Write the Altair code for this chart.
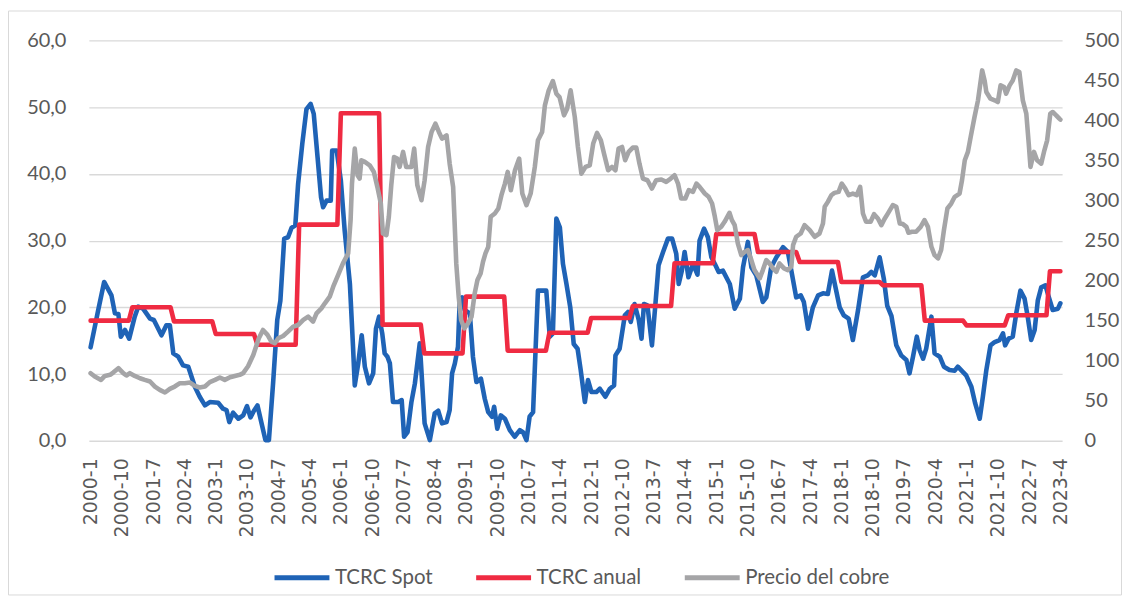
import altair as alt
import pandas as pd

# ---------------- data ----------------
# month index: 0 = 2000-1, 279 = 2023-4
series_names = ["TCRC Spot", "TCRC anual", "Precio del cobre"]
series_colors = ["#1F63B6", "#EF2B42", "#A5A5A7"]

x_tick_labels = ["2000-1", "2000-10", "2001-7", "2002-4", "2003-1", "2003-10", "2004-7", "2005-4",
                 "2006-1", "2006-10", "2007-7", "2008-4", "2009-1", "2009-10", "2010-7", "2011-4",
                 "2012-1", "2012-10", "2013-7", "2014-4", "2015-1", "2015-10", "2016-7", "2017-4",
                 "2018-1", "2018-10", "2019-7", "2020-4", "2021-1", "2021-10", "2022-7", "2023-4"]
x_tick_pos = [9 * k for k in range(len(x_tick_labels))]
left_ticks = [0, 10, 20, 30, 40, 50, 60]
right_ticks = [0, 50, 100, 150, 200, 250, 300, 350, 400, 450, 500]

spot_month = [
    0, 2.2, 3.9, 6, 7, 8, 8.7, 9.9, 11.1, 12.7,
    13.7, 15.1, 17.1, 18.2, 20.4, 21.8, 22.8, 23.8, 25.2, 26.6,
    28.1, 30, 31.4, 32.9, 34.3, 36.7, 38.1, 39.1, 39.9, 41,
    42.5, 43.9, 45, 46, 47, 48, 49.2, 50.3, 51.3, 52.5,
    53.7, 54.6, 55.7, 56.8, 57.8, 58.9, 59.7, 60.9, 62.1, 63.3,
    64.2, 65.3, 66.3, 66.9, 67.9, 69.1, 69.5, 70.8, 72, 73.1,
    74.6, 75.5, 76, 77, 78, 78.9, 80.1, 81.3, 82.1, 83,
    83.9, 84.6, 85.4, 86.1, 87, 88.5, 89.5, 90.2, 91.2, 92.3,
    93.3, 94.7, 96.1, 97.6, 99, 100, 101.1, 102.4, 103.3, 104,
    104.8, 105.7, 106.2, 106.9, 107.6, 109.1, 110, 111, 112.3, 113.4,
    114.4, 115.5, 116.1, 117, 118, 119.2, 120.6, 122, 123.5, 124.4,
    125.4, 126.3, 127.3, 128.7, 131.1, 132.1, 133, 134, 135, 135.9,
    136.9, 138, 139, 140.1, 141, 142.2, 143.1, 144.1, 145.5, 146.5,
    148.1, 149.4, 150.6, 151, 152.2, 153.7, 154.6, 155.4, 156.5, 157.7,
    158.5, 159.2, 160.2, 161.5, 162.5, 163.4, 164.7, 166.1, 167.3, 168.5,
    169.2, 170.1, 170.9, 172, 173.3, 174.6, 175.2, 176.5, 177.6, 178.6,
    179.6, 180.7, 181.9, 183.9, 185.3, 186.8, 187.7, 189.1, 190.1, 191.5,
    193.4, 194.4, 195.8, 197.3, 199.2, 200.6, 201.6, 203, 204.3, 205.2,
    206.4, 207.8, 209.3, 210.7, 212.1, 213.3, 214.3, 215.5, 216.7, 218.1,
    219.3, 220.8, 222.2, 223.6, 224.6, 225.6, 227, 228.2, 229.2, 230.4,
    231.8, 233.2, 234.7, 235.6, 236.6, 237.7, 238.5, 239.5, 240.4, 241.9,
    242.8, 244.3, 245.5, 247.1, 248.6, 249.5, 251, 251.9, 253.4, 254.5,
    255.8, 256.7, 257.7, 258.9, 260.1, 261.5, 262.5, 263.1, 264.1, 265.3,
    266.3, 267.5, 268.7, 269.6, 270.6, 271.6, 272.5, 273.5, 274.7, 275.7,
    276.8, 278.3, 279,
]
spot_value = [
    14.0, 19.6, 23.8, 21.8, 19.1, 19.0, 15.6, 16.6, 15.3, 18.6,
    20.1, 19.8, 18.3, 18.1, 15.8, 17.3, 17.3, 13.1, 12.6, 11.3,
    11.1, 8.1, 6.6, 5.3, 5.8, 5.7, 4.8, 4.6, 2.8, 4.2,
    3.3, 3.8, 5.2, 3.5, 4.5, 5.3, 2.6, 0.1, 0.1, 8.6,
    18.1, 21.0, 30.3, 30.5, 31.9, 32.3, 38.5, 44.5, 49.7, 50.5,
    49.0, 42.5, 36.5, 35.0, 36.0, 36.0, 43.5, 43.5, 39.0, 31.5,
    23.5, 14.1, 8.3, 11.6, 15.8, 11.1, 8.6, 10.1, 16.8, 18.6,
    16.1, 13.1, 12.6, 11.6, 5.8, 5.8, 6.1, 0.6, 1.3, 5.8,
    8.6, 14.6, 2.6, 0.1, 4.1, 4.5, 2.6, 2.8, 4.6, 10.1,
    11.6, 14.1, 21.0, 21.5, 19.6, 19.1, 12.6, 8.8, 9.3, 6.3,
    4.3, 3.6, 5.1, 1.8, 3.8, 3.3, 1.6, 0.6, 1.6, 1.3,
    0.1, 3.6, 4.3, 22.5, 22.5, 15.6, 16.1, 33.3, 32.0, 26.5,
    23.5, 20.0, 14.5, 13.8, 10.6, 5.8, 9.1, 7.3, 7.3, 7.8,
    6.6, 7.8, 8.3, 12.8, 13.8, 18.8, 19.3, 17.8, 20.5, 18.1,
    15.3, 20.5, 20.3, 14.3, 20.5, 26.3, 28.3, 30.3, 30.3, 28.0,
    23.5, 25.5, 28.3, 24.5, 26.5, 24.9, 30.0, 31.8, 30.5, 27.5,
    26.5, 25.3, 25.5, 23.5, 19.8, 21.3, 26.0, 29.8, 26.0, 24.8,
    20.8, 21.5, 26.0, 27.5, 29.0, 28.3, 25.5, 21.5, 21.8, 20.8,
    16.8, 20.0, 21.8, 22.1, 22.0, 25.5, 23.0, 20.0, 18.8, 18.3,
    15.1, 19.6, 24.5, 24.8, 25.3, 24.8, 27.5, 24.3, 20.2, 18.7,
    14.3, 12.8, 12.1, 10.1, 12.6, 15.6, 13.6, 12.3, 13.8, 18.6,
    13.1, 12.6, 11.1, 10.6, 10.5, 11.1, 10.3, 9.8, 8.1, 5.6,
    3.3, 6.6, 10.6, 14.3, 14.8, 15.1, 16.1, 14.3, 15.3, 15.6,
    19.1, 22.5, 21.3, 18.6, 15.1, 16.6, 21.0, 23.0, 23.3, 21.5,
    19.6, 19.8, 20.6,
]

# TCRC anual: one benchmark per year (applies to every month of that year)
anual_year = list(range(2000, 2024))
anual_value = [18.0, 20.0, 17.9, 16.0, 14.4, 32.4, 49.1, 17.4, 13.1, 21.6, 13.5, 16.2,
               18.4, 20.2, 26.6, 31.0, 28.3, 26.8, 23.8, 23.3, 18.0, 17.3, 18.8, 25.4]
last_month_2023 = 4

cobre_month = [
    0, 1.2, 3, 4.1, 5.6, 6.5, 8, 9.4, 10.3, 11.3,
    12.7, 14.2, 15.6, 17.1, 18.5, 19.9, 21.4, 22.8, 24.2, 25.7,
    27.1, 28.6, 30, 31.4, 32.9, 34.3, 35.8, 37.2, 38.6, 40.1,
    41.5, 42.9, 43.9, 45.3, 46.8, 48.4, 49.6, 50.9, 52, 53,
    54, 55.4, 56.8, 58.3, 59.7, 61.2, 62.6, 64, 65, 66.4,
    67.4, 68.8, 69.8, 71.2, 72.6, 74.1, 74.8, 75.2, 76, 76.8,
    77.4, 77.9, 78.9, 80.3, 81.5, 82.5, 83.5, 84.1, 85.1, 85.8,
    86.5, 87.3, 88.2, 88.9, 89.9, 90.8, 92.3, 93.1, 94, 95.2,
    96.1, 97.1, 98.1, 99.2, 100.2, 101.1, 102.4, 103.3, 104.3, 104.7,
    105.2, 105.9, 106.6, 107.5, 108.6, 109.6, 110.5, 111.3, 112.2, 112.9,
    113.6, 114.4, 115.1, 116.3, 117.3, 118.2, 119.2, 120, 120.9, 122.1,
    123.3, 124.2, 125.4, 126.6, 127.8, 128.7, 129.9, 130.7, 131.8, 133,
    134, 134.9, 136.2, 137.1, 138.1, 139.3, 140.2, 141.2, 142.4, 143.6,
    144.6, 145.7, 146.8, 147.7, 148.9, 150, 151, 151.9, 152.9, 153.8,
    154.8, 156, 157, 157.9, 158.9, 160.2, 161.5, 162.7, 164.2, 165.6,
    166.9, 168, 169, 169.9, 171.1, 172.1, 173.3, 174.3, 175.2, 176.7,
    177.8, 178.8, 179.6, 180.3, 181.4, 182.4, 183.8, 184.5, 185.3, 186.2,
    187.2, 188.2, 189.1, 190.1, 191, 192.5, 193.4, 194.4, 195.3, 196.3,
    197.3, 198.2, 199.5, 200.6, 201.6, 202.1, 203, 204.3, 205.4, 206.9,
    208.3, 209.7, 210.7, 211.2, 212.1, 213.1, 214, 215.2, 216.1, 217.1,
    218.1, 219.3, 220.4, 221.4, 222.2, 223.1, 224.4, 225.4, 226.5, 227.5,
    228.4, 229.4, 230.8, 231.8, 232.8, 233.7, 234.7, 235.3, 236.3, 237.5,
    238.8, 239.9, 240.9, 241.9, 242.8, 243.8, 244.7, 245.5, 246.5, 247.6,
    248.6, 250, 250.7, 251.5, 252.4, 253.2, 254.3, 255.3, 255.9, 256.5,
    257.2, 257.7, 258.9, 260.1, 261, 261.8, 262.8, 263.4, 264.4, 265.3,
    266.3, 267.2, 268.2, 269.2, 269.9, 270.4, 271.4, 272.3, 273.5, 274.4,
    275.2, 276.1, 276.8, 277.8, 278.7, 279,
]
cobre_value = [
    84.4, 80.2, 76.0, 81.0, 82.3, 85.2, 90.6, 84.4, 81.5, 84.4,
    81.0, 78.1, 76.0, 74.0, 67.7, 63.6, 60.3, 64.8, 67.7, 71.9,
    71.9, 72.7, 68.6, 66.5, 67.7, 73.2, 76.0, 79.0, 76.0, 79.4,
    81.0, 82.3, 84.4, 93.0, 107.0, 128.0, 138.4, 132.2, 123.9, 121.8,
    128.0, 130.9, 136.3, 142.6, 144.6, 150.9, 155.0, 148.8, 159.2, 165.4,
    171.7, 180.0, 192.4, 207.0, 221.5, 234.0, 275.6, 321.3, 364.9, 331.7,
    327.5, 350.4, 348.3, 344.1, 335.8, 317.1, 296.3, 258.9, 256.9, 279.7,
    319.2, 354.5, 352.5, 342.1, 360.8, 342.0, 342.1, 364.9, 319.2, 300.5,
    325.4, 367.0, 385.7, 396.1, 385.7, 377.4, 381.5, 346.2, 317.1, 275.6,
    221.5, 180.0, 150.9, 140.5, 146.7, 155.0, 184.1, 200.7, 209.0, 223.6,
    234.0, 242.3, 279.7, 283.9, 290.1, 306.7, 321.3, 335.8, 313.0, 337.9,
    352.5, 308.8, 294.3, 308.8, 342.1, 375.3, 385.7, 419.0, 437.7, 449.3,
    433.5, 429.3, 406.5, 414.8, 437.7, 404.4, 367.0, 333.7, 342.1, 344.1,
    371.2, 384.5, 375.3, 358.7, 337.9, 342.1, 337.9, 364.9, 367.0, 350.4,
    360.8, 366.2, 366.2, 346.2, 327.5, 325.4, 315.0, 325.4, 326.3, 323.4,
    327.5, 331.7, 321.3, 302.6, 302.6, 313.0, 310.9, 321.3, 317.1, 308.8,
    304.7, 296.3, 279.7, 263.1, 267.2, 273.5, 284.7, 275.6, 269.3, 246.5,
    231.9, 236.1, 238.2, 225.7, 213.2, 202.8, 213.2, 225.7, 221.5, 215.3,
    211.1, 221.5, 215.3, 213.2, 217.4, 244.4, 254.8, 258.9, 269.3, 263.1,
    254.8, 258.9, 271.4, 292.2, 298.4, 306.7, 309.6, 310.9, 321.3, 315.0,
    306.7, 308.8, 306.7, 317.1, 283.9, 273.5, 273.5, 283.0, 277.6, 269.3,
    277.0, 284.0, 294.3, 292.2, 271.4, 270.6, 267.2, 259.8, 261.0, 261.0,
    267.2, 275.6, 267.2, 242.3, 231.9, 227.8, 238.2, 263.1, 290.1, 296.3,
    304.7, 308.8, 325.4, 350.4, 360.8, 379.5, 404.4, 425.2, 443.9, 462.6,
    450.1, 435.6, 427.3, 425.2, 423.1, 443.9, 441.8, 433.5, 443.9, 450.1,
    462.6, 460.5, 425.2, 408.6, 371.2, 342.1, 360.8, 350.4, 346.2, 362.8,
    375.3, 408.6, 410.6, 406.5, 402.3, 401.1,
]

# ---------------- tables ----------------
spot_df = pd.DataFrame({"t": spot_month, "v": spot_value, "serie": series_names[0]})
a_t, a_v = [], []
for yr, val in zip(anual_year, anual_value):
    n = last_month_2023 if yr == 2023 else 12
    for m in range(n):
        a_t.append((yr - 2000) * 12 + m)
        a_v.append(val)
anual_df = pd.DataFrame({"t": a_t, "v": a_v, "serie": series_names[1]})
left_df = pd.concat([spot_df, anual_df], ignore_index=True)
left_df["o"] = range(len(left_df))
cobre_df = pd.DataFrame({"t": cobre_month, "v": cobre_value, "serie": series_names[2]})

TXT = "#595959"
GRID = "#D9D9D9"
W, H = 975, 401

label_expr_x = "[" + ",".join("'%s'" % s for s in x_tick_labels) + "][round(datum.value / 9)]"

x_enc = alt.X(
    "t:Q",
    scale=alt.Scale(domain=[-0.5, 279.5], nice=False, zero=False),
    axis=alt.Axis(values=x_tick_pos, labelExpr=label_expr_x, labelAngle=270,
                  labelFont="DejaVu Sans", labelFontSize=19, labelColor=TXT,
                  labelPadding=17, labelFlush=False, labelOverlap=False,
                  ticks=False, domain=False, grid=False, title=None),
)

color_enc = alt.Color(
    "serie:N",
    scale=alt.Scale(domain=series_names, range=series_colors),
    legend=alt.Legend(orient="none", legendX=183.5, legendY=508, direction="horizontal",
                      title=None, symbolType="stroke", symbolStrokeWidth=5, symbolSize=3025,
                      labelFont="Lato", labelFontSize=20.5, labelColor=TXT, labelOffset=3,
                      columnPadding=33, padding=0),
)

lines_left = alt.Chart(left_df).mark_line(strokeWidth=4.6, strokeJoin="round", strokeCap="round").encode(
    x=x_enc,
    y=alt.Y("v:Q", scale=alt.Scale(domain=[0, 60], nice=False),
            axis=alt.Axis(orient="left", values=left_ticks,
                          labelExpr="replace(format(datum.value, '.1f'), '.', ',')",
                          grid=True, gridColor=GRID, gridWidth=1.3, domain=False, ticks=False,
                          labelPadding=23, labelFont="Lato", labelFontSize=20, labelColor=TXT,
                          title=None)),
    color=color_enc,
    order=alt.Order("o:Q"),
)

line_cobre = alt.Chart(cobre_df).mark_line(strokeWidth=4.6, strokeJoin="round", strokeCap="round").encode(
    x=x_enc,
    y=alt.Y("v:Q", scale=alt.Scale(domain=[0, 500], nice=False),
            axis=alt.Axis(orient="right", values=right_ticks, grid=False, domain=False, ticks=False,
                          labelPadding=22, labelFont="Lato", labelFontSize=20, labelColor=TXT,
                          title=None)),
    color=color_enc,
)

frame = alt.Chart(pd.DataFrame({"k": [0]})).mark_rect(
    fillOpacity=0, stroke=GRID, strokeWidth=1
).encode(
    x=alt.value(-80.5), x2=alt.value(1034.5), y=alt.value(-29.5), y2=alt.value(555.5)
)

chart = alt.layer(frame, lines_left, line_cobre).resolve_scale(y="independent").properties(
    width=W, height=H,
    autosize=alt.AutoSizeParams(type="none"),
    padding={"left": 81, "top": 32, "right": 60, "bottom": 155},
    background="white",
).configure_view(stroke=None)

chart.save("out.html", embed_options={"renderer": "svg", "actions": False})
